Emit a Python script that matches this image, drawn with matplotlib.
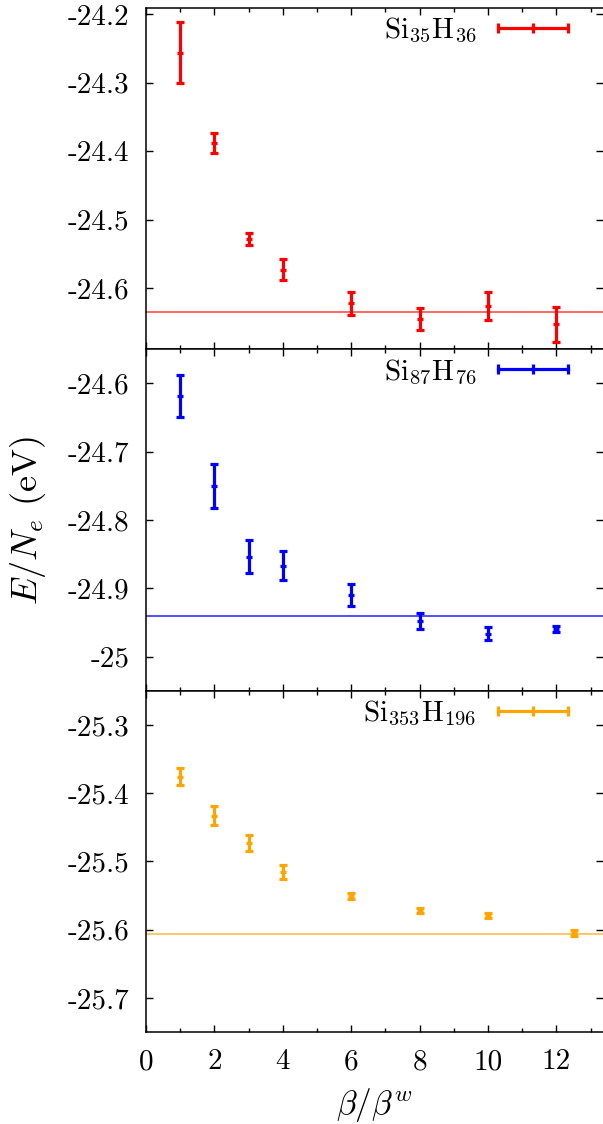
import matplotlib
matplotlib.use('Agg')
import matplotlib.pyplot as plt
from matplotlib.lines import Line2D
from matplotlib.ticker import MultipleLocator, FuncFormatter

plt.rcParams['font.family'] = 'serif'
plt.rcParams['font.serif'] = ['cmr10', 'DejaVu Serif']
plt.rcParams['mathtext.fontset'] = 'cm'
plt.rcParams['axes.unicode_minus'] = False

# data
beta = [1, 2, 3, 4, 6, 8, 10, 12]
beta_353 = [1, 2, 3, 4, 6, 8, 10, 12.5]

e_35 = [-24.256, -24.388, -24.528, -24.573, -24.622, -24.645, -24.626, -24.653]
err_35 = [0.045, 0.015, 0.009, 0.015, 0.017, 0.016, 0.020, 0.026]
ref_35 = -24.635

e_87 = [-24.619, -24.751, -24.854, -24.867, -24.910, -24.948, -24.967, -24.960]
err_87 = [0.031, 0.032, 0.024, 0.021, 0.016, 0.011, 0.0095, 0.004]
ref_87 = -24.940

e_353 = [-25.376, -25.433, -25.473, -25.516, -25.551, -25.572, -25.579, -25.605]
err_353 = [0.0127, 0.014, 0.012, 0.010, 0.004, 0.004, 0.004, 0.004]
ref_353 = -25.607

panels = [
    (beta, e_35, err_35, ref_35, r'Si$_{35}$H$_{36}$', 'red', '#ff4040', (-24.689, -24.19)),
    (beta, e_87, err_87, ref_87, r'Si$_{87}$H$_{76}$', 'blue', '#2020ff', (-25.05, -24.55)),
    (beta_353, e_353, err_353, ref_353, r'Si$_{353}$H$_{196}$', 'orange', '#ffb840', (-25.75, -25.25)),
]

W, H = 603, 1124
fig = plt.figure(figsize=(W / 100, H / 100), dpi=100)

left = 146 / W
width = 1 - left
tops = [7.5, 349, 690.7]
bottoms = [349, 690.7, 1032]
x_max = (W - 146) / 34.2
fs = 21

axes = []
for i, (x, y, err, ref, label, color, lcolor, ylim) in enumerate(panels):
    b = 1 - bottoms[i] / H
    h = (bottoms[i] - tops[i]) / H
    ax = fig.add_axes([left, b, width, h])
    axes.append(ax)

    ax.axhline(ref, color=lcolor, lw=1.1, zorder=2)
    ax.errorbar(x, y, yerr=err, fmt='_', color=color, ms=4.5, mew=2.3,
                elinewidth=2.3, capsize=3.0, capthick=2.3, zorder=3)

    ax.set_xlim(0, x_max)
    ax.set_ylim(*ylim)
    ax.xaxis.set_major_locator(MultipleLocator(2))
    ax.xaxis.set_minor_locator(MultipleLocator(1))
    ax.yaxis.set_major_locator(MultipleLocator(0.1))
    ax.yaxis.set_major_formatter(FuncFormatter(lambda v, p: f'{v:.10g}'))
    ax.tick_params(which='both', direction='in', top=True, right=True,
                   width=1.0, labelsize=fs, pad=12)
    ax.tick_params(which='major', length=5)
    ax.tick_params(which='minor', length=3)
    ax.spines['right'].set_visible(False)
    for s in ['left', 'top', 'bottom']:
        ax.spines[s].set_linewidth(1.1)
    if i < 2:
        ax.tick_params(labelbottom=False)

    handle = Line2D([], [], color=color, lw=2.3, marker='|', ms=6.5, mew=2.3)
    ax.legend([handle], [label], loc='center right',
              bbox_to_anchor=((577 - 146) / (W - 146), 1 - 23 / (bottoms[i] - tops[i])),
              numpoints=3, markerfirst=False, frameon=False, fontsize=fs,
              handlelength=3.0, handletextpad=0.45, borderpad=0, borderaxespad=0)

axes[1].set_ylabel(r'$E/N_e$ (eV)', fontsize=26)
axes[1].yaxis.set_label_coords(-0.214, 0.5)
axes[2].set_xlabel(r'$\beta/\beta^w$', fontsize=24, labelpad=8)

fig.savefig('out.png', dpi=100)
